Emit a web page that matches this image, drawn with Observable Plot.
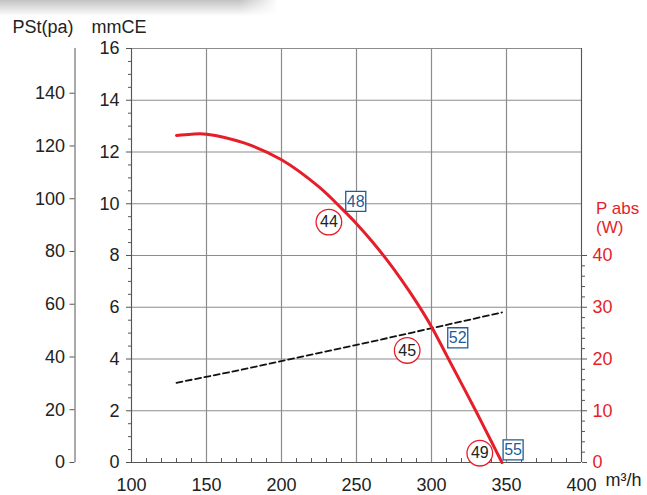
<!DOCTYPE html>
<html><head><meta charset="utf-8">
<script src="https://cdn.jsdelivr.net/npm/d3@7"></script>
<script src="https://cdn.jsdelivr.net/npm/@observablehq/plot@0.6"></script>
<style>
body{margin:0;background:#fff;}
#wrap{position:relative;width:647px;height:495px;}
#shade{position:absolute;left:0;top:0;width:278px;height:16px;background:linear-gradient(to bottom,rgba(0,0,0,0.24),rgba(0,0,0,0));-webkit-mask-image:linear-gradient(to right,#000 86%,transparent);mask-image:linear-gradient(to right,#000 86%,transparent);pointer-events:none;z-index:2;}
</style></head><body><div id="wrap"><div id="shade"></div><div id="chart"></div></div>
<script>
// Fan curve: static pressure (mmCE) vs airflow (m3/h)
const flow = [130,140,150,175,200,225,240,250,260,270,280,290,300,310,320,330,340,347];
const pressure = [12.64,12.69,12.69,12.35,11.70,10.65,9.82,9.23,8.57,7.85,7.06,6.20,5.25,4.15,3.05,1.94,0.80,0];
// Absorbed power (W) vs airflow
const powerFlow = [130,173,267,347];
const powerW = [15.4,17.9,23.8,29.0];
// Sound levels: circled and boxed values
const circFlow = [231.6,283.8,332.2];
const circP = [9.29,4.33,0.36];
const circDb = ["44","45","49"];
const boxFlow = [249.5,317.5,354.4];
const boxP = [10.09,4.82,0.49];
const boxDb = ["48","52","55"];
// Tick labels
const xTicks = [100,150,200,250,300,350,400];
const mmTicks = [0,2,4,6,8,10,12,14,16];
const paTicks = [0,20,40,60,80,100,120,140];
const wTicks = [0,10,20,30,40];
const titleLeft = ["PSt(pa)"];
const titleUnit = ["mmCE"];
const rightTitle1 = ["P abs"];
const rightTitle2 = ["(W)"];
const xUnit = ["m³/h"];

const PA_PER_MM = 9.81, W_PER_MM = 5;
const RED = "#e61e2a", BLUE = "#1f5c98", GRID = "#8c8c8c", AX = "#555";

const curve = flow.map((f,i)=>({f, p: pressure[i]}));
const power = powerFlow.map((f,i)=>({f, p: powerW[i]/W_PER_MM}));
const circles = circFlow.map((f,i)=>({f, p: circP[i], t: circDb[i]}));
const boxes = boxFlow.map((f,i)=>({f, p: boxP[i], t: boxDb[i]}));
const xMinor = d3.range(100,401,10).filter(v=>v%50);
const mmMinor = d3.range(0,16.01,0.5).filter(v=>v%2);
const wMinor = d3.range(0,41,2).filter(v=>v%10).map(w=>w/W_PER_MM);

const chart = Plot.plot({
  width:647, height:495,
  marginLeft:131, marginRight:66, marginTop:48, marginBottom:33,
  style:{fontFamily:"'Liberation Sans', Arial, sans-serif", fontSize:"18px", color:"#222", background:"transparent", overflow:"visible"},
  x:{domain:[100,400], label:null},
  y:{domain:[0,16], label:null},
  marks:[
    Plot.gridX(xTicks,{stroke:GRID, strokeOpacity:1, strokeWidth:1.2}),
    Plot.gridY(mmTicks,{stroke:GRID, strokeOpacity:1, strokeWidth:1.2}),
    // axis lines
    Plot.ruleX([100],{y1:0,y2:16, stroke:AX}),
    Plot.ruleX([400],{y1:0,y2:16, stroke:AX}),
    Plot.ruleY([0],{x1:100,x2:400, stroke:AX}),
    Plot.ruleX([100],{y1:0,y2:16, stroke:AX, dx:-56.5}),
    // bottom axis
    Plot.axisX(xTicks,{anchor:"bottom", label:null, tickSize:0, tickPadding:16, stroke:AX}),
    Plot.ruleX(xMinor,{y1:0, y2:0.15, stroke:AX}),
    // left mmCE axis
    Plot.axisY(mmTicks,{anchor:"left", label:null, tickSize:5, tickPadding:7, stroke:AX}),
    Plot.axisY(mmMinor,{anchor:"left", label:null, tickSize:3, tickFormat:()=>"", stroke:AX}),
    // left Pa axis
    Plot.axisY(paTicks.map(p=>p/PA_PER_MM),{anchor:"left", label:null, dx:-56.5, tickSize:5, tickPadding:5, tickFormat:d=>Math.round(d*PA_PER_MM), stroke:AX}),
    // right W axis
    Plot.axisY(wTicks.map(w=>w/W_PER_MM),{anchor:"right", label:null, tickSize:5, tickPadding:6, tickFormat:d=>Math.round(d*W_PER_MM), stroke:AX, fill:RED}),
    Plot.axisY(wMinor,{anchor:"right", label:null, tickSize:3, tickFormat:()=>"", stroke:AX}),
    // curves
    Plot.line(power,{x:"f", y:"p", stroke:"#111", strokeWidth:1.8, strokeDasharray:"6,3.5"}),
    Plot.line(curve,{x:"f", y:"p", stroke:RED, strokeWidth:3, curve:"catmull-rom"}),
    // sound markers
    Plot.dot(circles,{x:"f", y:"p", r:12.8, stroke:RED, strokeWidth:1.3, fill:"white"}),
    Plot.text(circles,{x:"f", y:"p", text:"t", fill:"#222", fontSize:16}),
    Plot.dot(boxes,{x:"f", y:"p", r:11.3, symbol:"square", stroke:BLUE, strokeWidth:1.3, fill:"white"}),
    Plot.text(boxes,{x:"f", y:"p", text:"t", fill:BLUE, fontSize:16}),
    // titles
    Plot.text(titleLeft,{text:d=>d, frameAnchor:"top-left", textAnchor:"start", dx:-119, dy:-28.5, fill:"#222"}),
    Plot.text(titleUnit,{text:d=>d, frameAnchor:"top-left", textAnchor:"start", dx:-40, dy:-28.5, fill:"#222"}),
    Plot.text(rightTitle1,{text:d=>d, frameAnchor:"top-right", textAnchor:"start", dx:14.5, dy:153, fill:RED, fontSize:17}),
    Plot.text(rightTitle2,{text:d=>d, frameAnchor:"top-right", textAnchor:"start", dx:14.5, dy:172, fill:RED, fontSize:17}),
    Plot.text(xUnit,{text:d=>d, frameAnchor:"bottom-right", textAnchor:"start", dx:24, dy:23, fill:"#222"})
  ]
});
document.getElementById("chart").appendChild(chart);
</script></body></html>
